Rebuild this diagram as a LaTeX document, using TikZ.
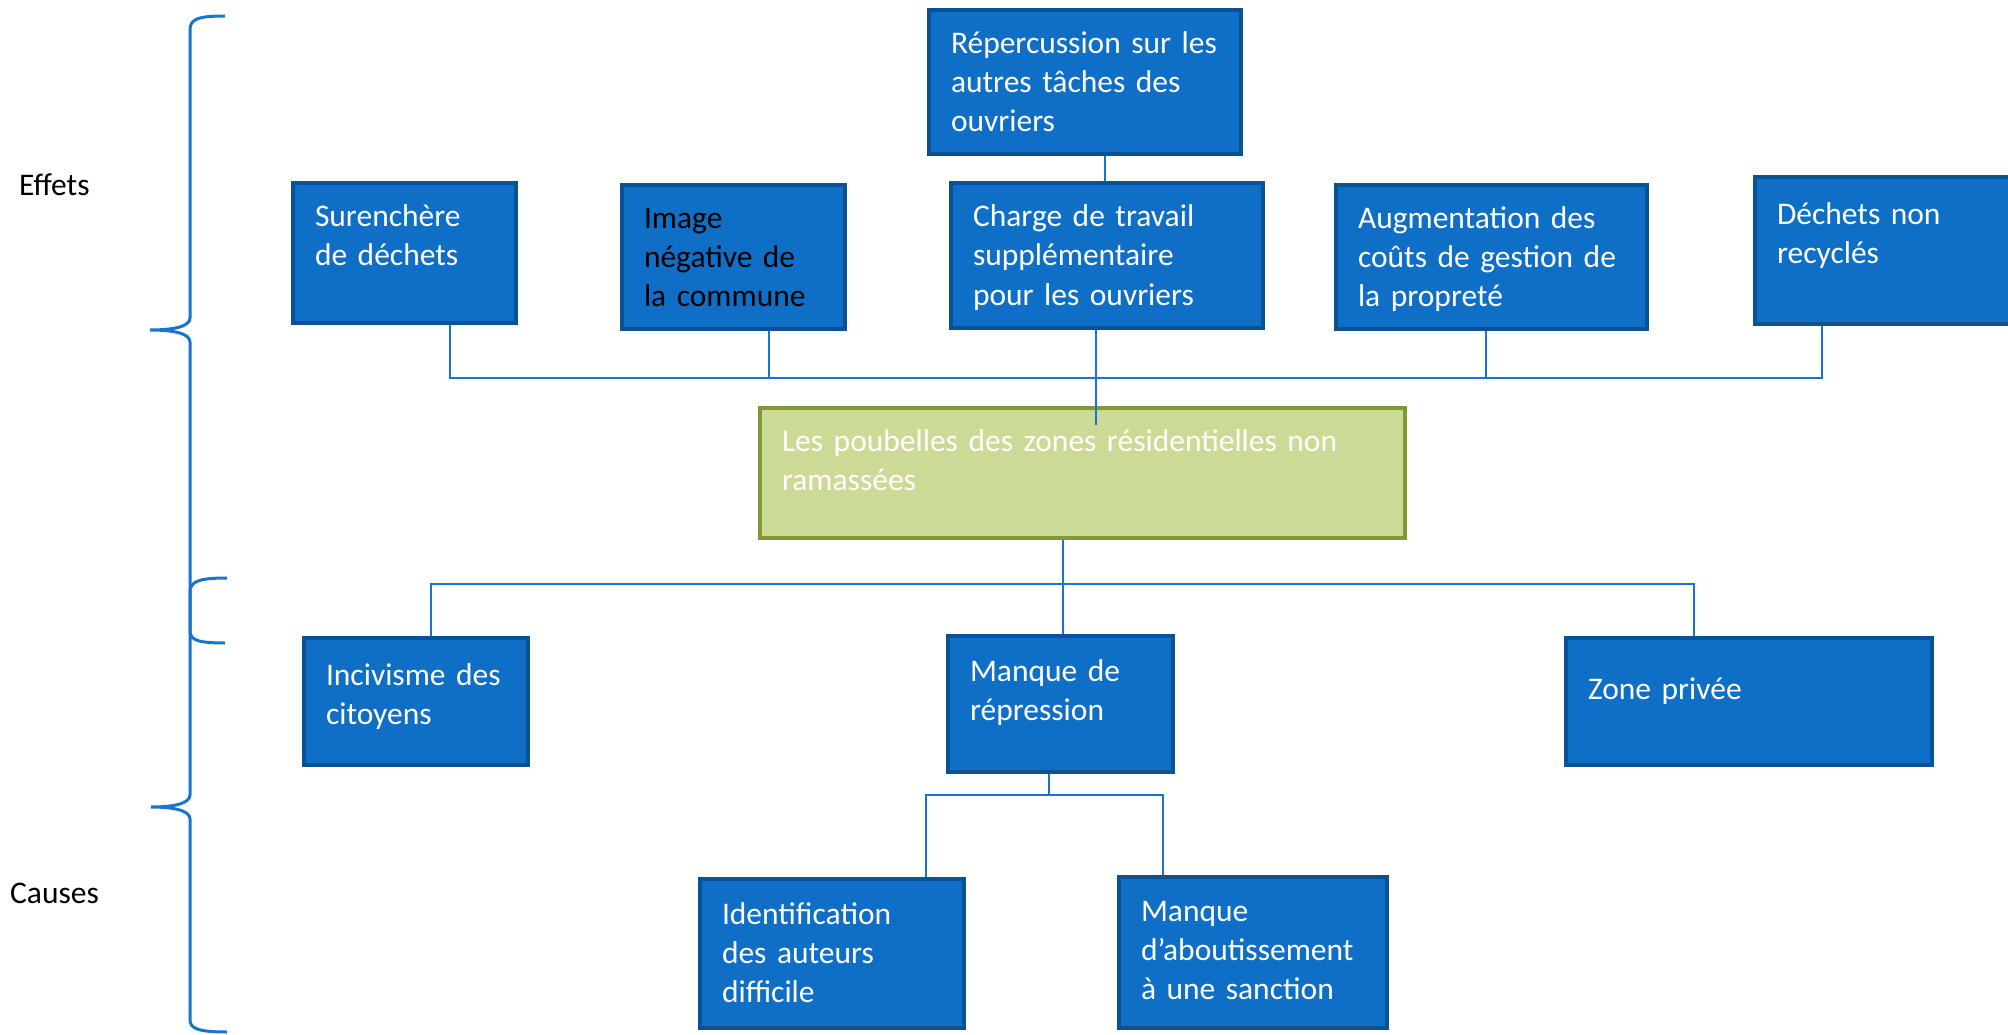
\documentclass[tikz,border=0pt]{standalone}
\usepackage{fontspec}
\setmainfont{Carlito}

\definecolor{bleubloc}{HTML}{0F6FC6}
\definecolor{bleubord}{HTML}{0B5294}
\definecolor{bleulien}{HTML}{1874CD}
\definecolor{vertbloc}{HTML}{CBDB96}
\definecolor{vertbord}{HTML}{7F9A32}

\newcommand{\policebloc}{\fontsize{31.5}{39}\selectfont}

\begin{document}
\begin{tikzpicture}
  [x=1pt,y=-1pt,
   bloc/.style 2 args={draw=bleubord,line width=4pt,fill=bleubloc,text=white,
     anchor=north west,align=left,inner xsep=22pt,inner ysep=0pt,
     text height=44pt,text width=#1,text depth=#2,font=\policebloc},
   probleme/.style={draw=vertbord,fill=vertbloc},
   lien/.style={draw=bleulien,line width=2pt},
   accolade/.style={draw=bleulien,line width=3pt},
   etiquette/.style={anchor=base west,inner sep=0pt,font=\policebloc}]
  \useasboundingbox (0,0) rectangle (2008,1035);

  \node[etiquette] (effets) at (19,196) {Effets};
  \node[etiquette] (causes) at (10,903) {Causes};

  % effets
  \node[bloc={268pt}{100pt}] (reperc) at (927,8) {Répercussion~sur~les\\autres tâches des\\ouvriers};
  \node[bloc={179pt}{96pt}] (surench) at (291,181) {Surenchère\\de déchets};
  \node[bloc={179pt}{100pt},text=black] (image) at (620,183) {Image\\négative de\\la commune};
  \node[bloc={268pt}{101pt}] (charge) at (949,181) {Charge de travail\\supplémentaire\\pour les ouvriers};
  \node[bloc={267pt}{100pt}] (augm) at (1334,183) {Augmentation des\\coûts de gestion de\\la propreté};
  \node[bloc={211pt}{99pt},text height=48pt] (dechets) at (1753,175) {Déchets non\\recyclés};

  % probleme central
  \node[bloc={601pt}{87pt},probleme,text height=43pt] (prob) at (758,406) {Les poubelles des zones résidentielles non\\ramassées};

  % causes
  \node[bloc={180pt}{80pt},text height=47pt] (incivisme) at (302,636) {Incivisme~des\\citoyens};
  \node[bloc={181pt}{91pt},text height=45pt] (repress) at (946,634) {Manque de\\répression};
  \node[bloc={322pt}{66pt},text height=61pt] (privee) at (1564,636) {Zone privée};
  \node[bloc={220pt}{104pt},text height=45pt] (identif) at (698,877) {Identification\\des auteurs\\difficile};
  \node[bloc={224pt}{107pt}] (sanction) at (1117,875) {Manque\\d’aboutissement\\à une sanction};

  % liaisons
  \coordinate (bushaut) at (0,378);
  \coordinate (busbas) at (0,584);
  \coordinate (busrep) at (0,795);
  \draw[lien] ([xshift=20pt]reperc.south) -- ([xshift=20pt]reperc.south |- charge.north);
  \draw[lien] ([xshift=45pt]surench.south) |- ([xshift=-61pt]dechets.south |- bushaut)
    -- ([xshift=-61pt]dechets.south);
  \draw[lien] ([xshift=35pt]image.south) -- ([xshift=35pt]image.south |- bushaut);
  \draw[lien] ([xshift=-6pt]augm.south) -- ([xshift=-6pt]augm.south |- bushaut);
  \draw[lien] ([xshift=-11pt]charge.south) -- ([xshift=-11pt]charge.south |- prob.north) -- ++(0,19);
  \draw[lien] ([xshift=-20pt]prob.south) -- ([xshift=-20pt]prob.south |- repress.north);
  \draw[lien] ([xshift=15pt]incivisme.north) |- ([xshift=-55pt]privee.north |- busbas)
    -- ([xshift=-55pt]privee.north);
  \draw[lien] ([xshift=-12pt]repress.south) -- ([xshift=-12pt]repress.south |- busrep);
  \draw[lien] ([xshift=94pt]identif.north) |- ([xshift=-90pt]sanction.north |- busrep)
    -- ([xshift=-90pt]sanction.north);

  % accolades
  \draw[accolade] (225,16) .. controls (198,16) and (190,19) .. (190,30)
    -- (190,318) .. controls (190,327) and (172,330) .. (150,330)
    .. controls (172,330) and (190,333) .. (190,342)
    -- (190,631) .. controls (190,640) and (198,643) .. (225,643);
  \draw[accolade] (227,578) .. controls (200,578) and (190,581) .. (190,592)
    -- (190,795) .. controls (190,804) and (172,807) .. (151,807)
    .. controls (172,807) and (190,810) .. (190,819)
    -- (190,1020) .. controls (190,1029) and (200,1032) .. (227,1032);
\end{tikzpicture}
\end{document}
